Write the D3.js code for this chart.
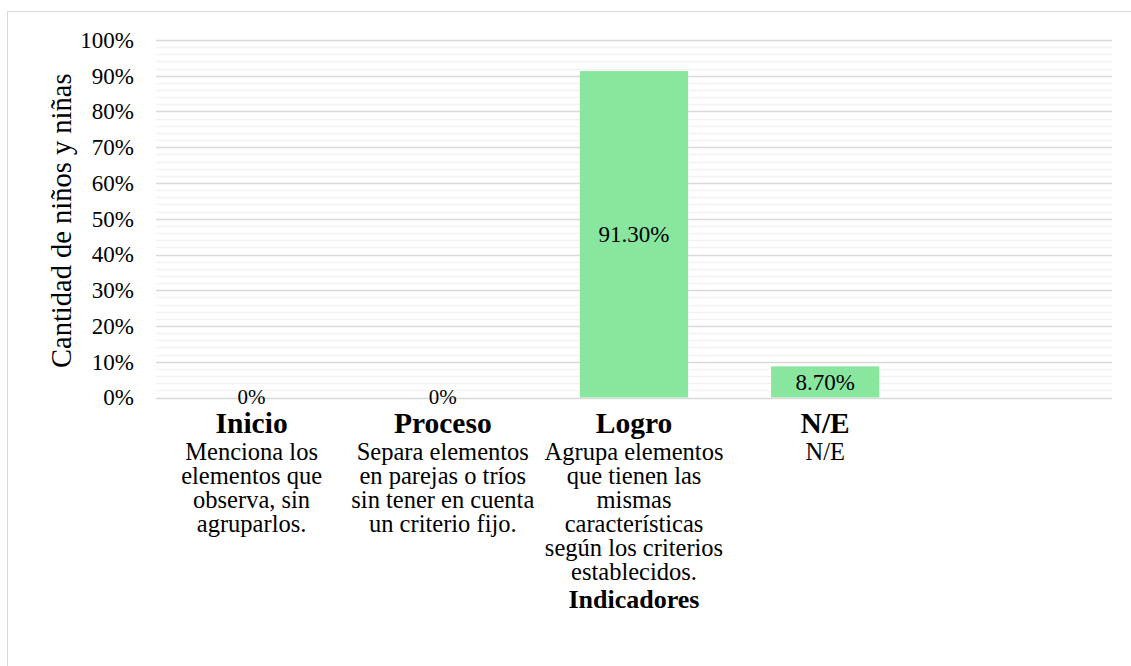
<!DOCTYPE html>
<html>
<head>
<meta charset="utf-8">
<script src="https://cdn.jsdelivr.net/npm/d3@7"></script>
<style>
  body { margin: 0; background: #fff; }
  .axis path, .axis line { display: none; }
</style>
</head>
<body>
<svg id="chart"></svg>
<script>
// data
const categories = ['Inicio', 'Proceso', 'Logro', 'N/E', ''];
const descriptions = [
  ['Menciona los', 'elementos que', 'observa, sin', 'agruparlos.'],
  ['Separa elementos', 'en parejas o tríos', 'sin tener en cuenta', 'un criterio fijo.'],
  ['Agrupa elementos', 'que tienen las', 'mismas', 'características', 'según los criterios', 'establecidos.'],
  ['N/E'],
  []
];
const values = [0, 0, 0.913, 0.087, null];
const valueLabels = ['0%', '0%', '91.30%', '8.70%', ''];
const yTicks = [0, 0.1, 0.2, 0.3, 0.4, 0.5, 0.6, 0.7, 0.8, 0.9, 1];

const FONT = '"Liberation Serif", "Times New Roman", Times, serif';
const W = 1131, H = 666;
const margin = {top: 40, right: 19, bottom: 268.5, left: 156};
const width = W - margin.left - margin.right,
      height = H - margin.top - margin.bottom;

const svg = d3.select('#chart').attr('width', W).attr('height', H)
  .attr('font-family', FONT);

// outer frame
svg.append('rect')
  .attr('x', 7.5).attr('y', 11.5)
  .attr('width', W).attr('height', H)
  .attr('fill', 'none').attr('stroke', '#d9d9d9');

const chart = svg.append('g')
  .attr('transform', `translate(${margin.left},${margin.top})`);

const x = d3.scaleBand().domain(categories.map((c, i) => i)).range([0, width]).paddingInner(0.434).paddingOuter(0.217);
const y = d3.scaleLinear().domain([0, 1]).range([height, 0]);

// minor gridlines
const minor = d3.range(0, 1.0001, 0.02).filter(v => Math.round(v * 100) % 10 !== 0);
chart.selectAll('.minor').data(minor).enter().append('line')
  .attr('x1', 0).attr('x2', width)
  .attr('y1', d => Math.round(y(d)) + 0.5).attr('y2', d => Math.round(y(d)) + 0.5)
  .attr('stroke', '#f2f2f2').attr('stroke-width', 1.5);

// major gridlines
chart.selectAll('.major').data(yTicks).enter().append('line')
  .attr('x1', 0).attr('x2', width)
  .attr('y1', d => Math.round(y(d)) + 0.5).attr('y2', d => Math.round(y(d)) + 0.5)
  .attr('stroke', '#d9d9d9').attr('stroke-width', 1.5);

// y axis
chart.append('g').attr('class', 'axis')
  .attr('transform', 'translate(-22,0)')
  .call(d3.axisLeft(y).tickValues(yTicks).tickFormat(d3.format('.0%')).tickSize(0).tickPadding(0))
  .attr('font-family', FONT)
  .attr('font-size', 23)
  .selectAll('text').attr('dy', '0.32em').attr('fill', '#000');

// bars
chart.selectAll('.bar').data(values.map((v, i) => ({v, i})).filter(d => d.v)).enter().append('rect')
  .attr('x', d => x(d.i))
  .attr('width', x.bandwidth())
  .attr('y', d => y(d.v))
  .attr('height', d => height - y(d.v))
  .attr('fill', '#88e69f');

// value labels
chart.selectAll('.vlabel').data(values.map((v, i) => ({v, i})).filter(d => d.v !== null)).enter().append('text')
  .attr('x', d => x(d.i) + x.bandwidth() / 2)
  .attr('y', d => d.v > 0 ? (y(d.v) + height) / 2 : height)
  .attr('dy', d => d.v > 0 ? '0.35em' : '0.3em')
  .attr('text-anchor', 'middle')
  .attr('font-size', d => d.v > 0 ? 23 : 21)
  .text(d => valueLabels[d.i]);

// category labels
const cat = chart.selectAll('.cat').data(categories).enter().append('g')
  .attr('transform', (d, i) => `translate(${x(i) + x.bandwidth() / 2},${height})`);
cat.append('text')
  .attr('y', 35).attr('text-anchor', 'middle')
  .attr('font-size', 29.5).attr('font-weight', 'bold')
  .text(d => d);
cat.append('text')
  .attr('text-anchor', 'middle')
  .attr('font-size', 24.5)
  .selectAll('tspan').data((d, i) => descriptions[i]).enter().append('tspan')
    .attr('x', 0)
    .attr('y', (t, j) => 62 + j * 24)
    .text(t => t);

// axis titles
chart.append('text')
  .attr('x', x(2) + x.bandwidth() / 2).attr('y', height + 210)
  .attr('text-anchor', 'middle').attr('font-size', 26).attr('font-weight', 'bold')
  .text('Indicadores');

svg.append('text')
  .attr('transform', `translate(71,${margin.top + height / 2 + 2}) rotate(-90)`)
  .attr('text-anchor', 'middle').attr('font-size', 28.5)
  .text('Cantidad de niños y niñas');
</script>
</body>
</html>
